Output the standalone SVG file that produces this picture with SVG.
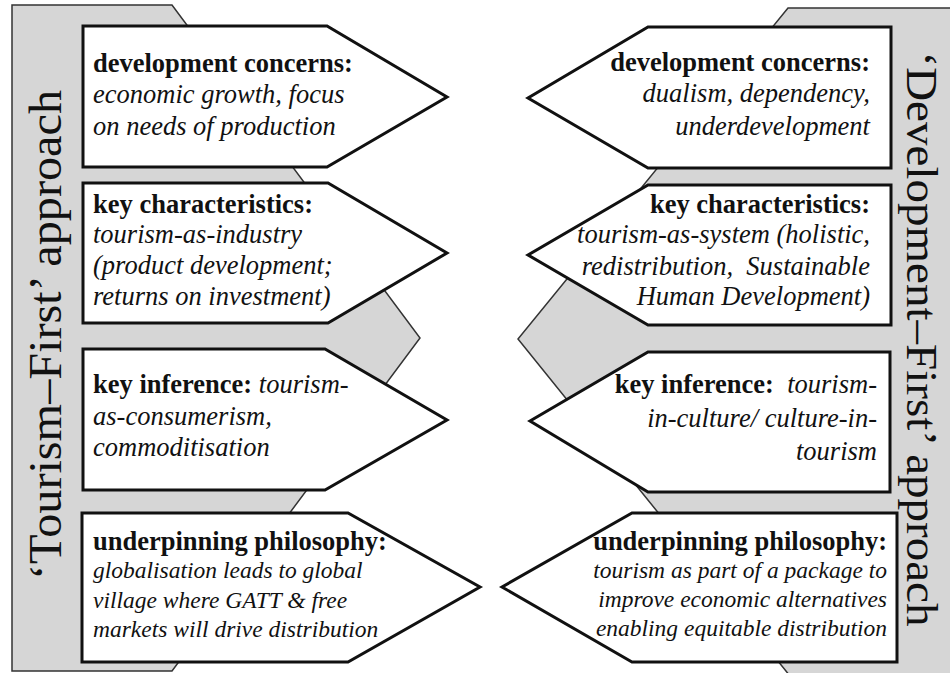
<svg xmlns="http://www.w3.org/2000/svg" width="950" height="673" viewBox="0 0 950 673">
<style>
.bg{fill:#d6d6d6;stroke:#333;stroke-width:1.5}
.box{fill:#fff;stroke:#111;stroke-width:3;stroke-linejoin:miter}
text{font-family:"Liberation Serif","Times New Roman",serif;fill:#111}
.h{font-weight:bold;font-size:26.5px}
.b{font-style:italic;font-size:26.5px}
.s{font-style:italic;font-size:23.5px}
.side{font-size:47px}
.side2{font-size:44px}
.r{text-anchor:end}
</style>
<rect x="0" y="0" width="950" height="673" fill="#fff"/>
<g id="background">
<polygon class="bg" points="12,5 172,5 420,338 172,671 12,671"/>
<polygon class="bg" points="788,8 952,8 952,676 790,676 518,339"/>
</g>
<g id="side-labels">
<text class="side" text-anchor="middle" transform="translate(61,335) rotate(-90)" textLength="490" lengthAdjust="spacingAndGlyphs">‘Tourism–First’ approach</text>
<text class="side2" text-anchor="middle" transform="translate(907,339) rotate(90)" textLength="575" lengthAdjust="spacingAndGlyphs">‘Development–First’ approach</text>
</g>
<g id="connectors"></g>
<g id="left-1">
<polygon class="box" points="83,26 327,26 447,97 327,167 83,167"/>
<text class="h" x="93" y="72">development concerns:</text>
<text class="b" x="93" y="103">economic growth, focus</text>
<text class="b" x="93" y="135">on needs of production</text>
</g>
<g id="left-2">
<polygon class="box" points="83,183 328,183 447,253 328,323 83,323"/>
<text class="h" x="93" y="213">key characteristics:</text>
<text class="b" x="93" y="243">tourism-as-industry</text>
<text class="b" x="93" y="274">(product development;</text>
<text class="b" x="93" y="305">returns on investment)</text>
</g>
<g id="left-3">
<polygon class="box" points="83,349 325,349 447,420 325,490 83,490"/>
<text x="93" y="393"><tspan class="h">key inference: </tspan><tspan class="b">tourism-</tspan></text>
<text class="b" x="93" y="425">as-consumerism,</text>
<text class="b" x="93" y="456">commoditisation</text>
</g>
<g id="left-4">
<polygon class="box" points="82,513 348,513 480,587 348,662 82,662"/>
<text class="h" x="93" y="550">underpinning philosophy:</text>
<text class="s" x="93" y="578">globalisation leads to global</text>
<text class="s" x="93" y="608">village where GATT &amp; free</text>
<text class="s" x="93" y="637">markets will drive distribution</text>
</g>
<g id="right-1">
<polygon class="box" points="891,27 648,27 528,98 648,168 891,168"/>
<text class="h r" x="870" y="71">development concerns:</text>
<text class="b r" x="870" y="102">dualism, dependency,</text>
<text class="b r" x="870" y="135">underdevelopment</text>
</g>
<g id="right-2">
<polygon class="box" points="891,185 648,185 528,255 648,325 891,325"/>
<text class="h r" x="870" y="213">key characteristics:</text>
<text class="b r" x="870" y="243">tourism-as-system (holistic,</text>
<text class="b r" x="870" y="275" xml:space="preserve">redistribution,  Sustainable</text>
<text class="b r" x="870" y="305">Human Development)</text>
</g>
<g id="right-3">
<polygon class="box" points="890,352 648,352 530,421 648,492 890,492"/>
<text class="r" x="877" y="393" xml:space="preserve"><tspan class="h">key inference:  </tspan><tspan class="b">tourism-</tspan></text>
<text class="b r" x="877" y="427">in-culture/ culture-in-</text>
<text class="b r" x="877" y="460">tourism</text>
</g>
<g id="right-4">
<polygon class="box" points="897,513 632,513 502,587 632,662 897,662"/>
<text class="h r" x="887" y="550">underpinning philosophy:</text>
<text class="s r" x="887" y="578">tourism as part of a package to</text>
<text class="s r" x="887" y="607">improve economic alternatives</text>
<text class="s r" x="887" y="636">enabling equitable distribution</text>
</g>
</svg>
